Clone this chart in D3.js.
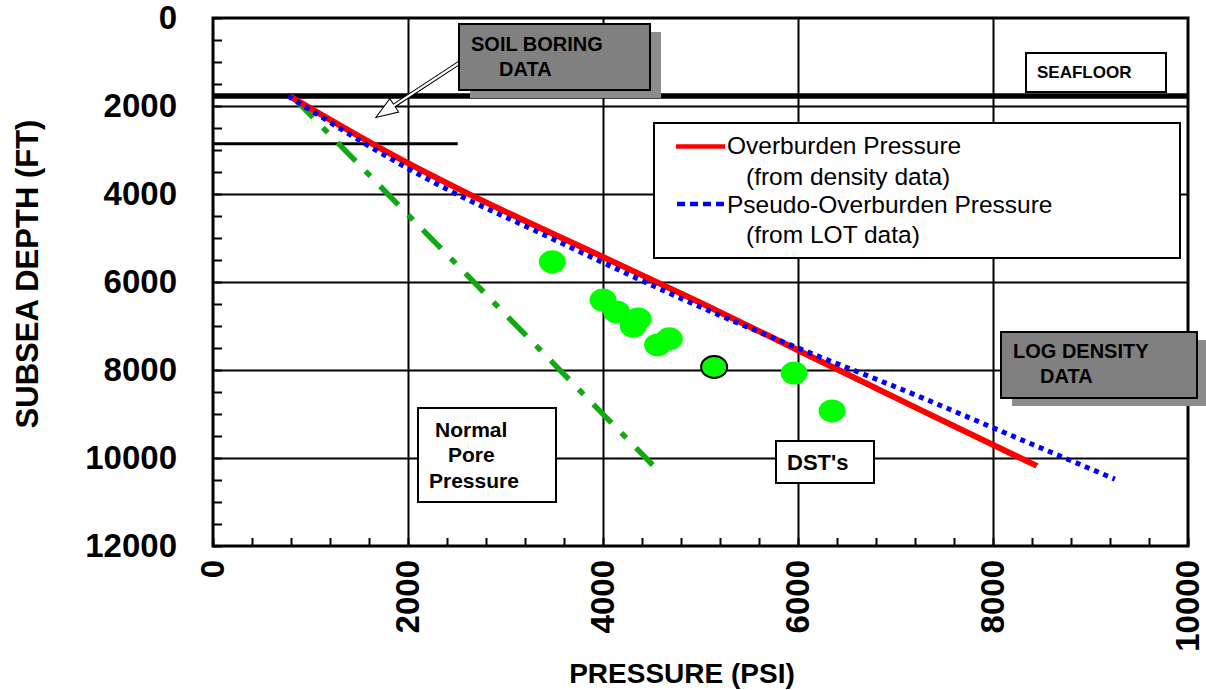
<!DOCTYPE html>
<html>
<head>
<meta charset="utf-8">
<script src="https://cdn.jsdelivr.net/npm/d3@7"></script>
<style>
  html, body { margin: 0; padding: 0; background: #fff; }
  svg { display: block; font-family: Arial, "Liberation Sans", Helvetica, sans-serif; }
</style>
</head>
<body>
<svg id="chart" width="1206" height="690"></svg>
<script>
// ---- data (pressure in psi, depth in ft) ----
const pressureTicks = [0, 2000, 4000, 6000, 8000, 10000];
const depthTicks = [0, 2000, 4000, 6000, 8000, 10000, 12000];

const overburden = [
  [790, 1780], [2000, 3300], [2600, 3975], [4000, 5430],
  [5000, 6470], [6000, 7550], [7250, 8900], [8450, 10180]
];
const pseudoOverburden = [
  [770, 1773], [2000, 3420], [2450, 3950], [3300, 4830],
  [4000, 5560], [5000, 6570], [6000, 7500], [7250, 8610], [8050, 9360], [9250, 10480]
];
const normalPore = [[840, 1840], [4510, 10160]];
const dstPoints = [
  [3480, 5540], [4000, 6410], [4140, 6680], [4360, 6840], [4310, 7000],
  [4560, 7430], [4680, 7290], [5960, 8070], [6350, 8930]
];
const dstHighlighted = [[5140, 7930]];
const seafloorDepth = 1773;
const soilBoringBase = { depth: 2860, pressure: 2510 };

// ---- layout ----
const svg = d3.select("#chart");
const pL = 213, pR = 1188, pT = 18, pB = 546;
const x = d3.scaleLinear().domain([0, 10000]).range([pL, pR]);
const y = d3.scaleLinear().domain([0, 12000]).range([pT, pB]);

svg.append("rect").attr("width", 1206).attr("height", 690).attr("fill", "#fff");

// grid lines at the major ticks
svg.append("g")
  .attr("transform", `translate(0,${pB})`)
  .call(d3.axisBottom(x).tickValues(pressureTicks.slice(1, -1)).tickSize(-(pB - pT)).tickFormat(""))
  .call(g => g.select(".domain").remove())
  .call(g => g.selectAll("line").attr("stroke", "#000").attr("stroke-width", 2));
svg.append("g")
  .attr("transform", `translate(${pL},0)`)
  .call(d3.axisLeft(y).tickValues(depthTicks.slice(1, -1)).tickSize(-(pR - pL)).tickFormat(""))
  .call(g => g.select(".domain").remove())
  .call(g => g.selectAll("line").attr("stroke", "#000").attr("stroke-width", 2));

// minor ticks pointing into the plot
svg.append("g")
  .attr("transform", `translate(${pL},0)`)
  .call(d3.axisRight(y).tickValues(d3.range(0, 12001, 500)).tickSize(9).tickFormat(""))
  .call(g => g.select(".domain").remove())
  .call(g => g.selectAll("line").attr("stroke", "#000").attr("stroke-width", 2));
svg.append("g")
  .attr("transform", `translate(0,${pB})`)
  .call(d3.axisTop(x).tickValues(d3.range(0, 10001, 400)).tickSize(8).tickFormat(""))
  .call(g => g.select(".domain").remove())
  .call(g => g.selectAll("line").attr("stroke", "#000").attr("stroke-width", 2));

// plot frame
svg.append("rect")
  .attr("x", pL).attr("y", pT).attr("width", pR - pL).attr("height", pB - pT)
  .attr("fill", "none").attr("stroke", "#000").attr("stroke-width", 3);

// seafloor and base of soil boring
svg.append("line")
  .attr("x1", pL).attr("x2", pR)
  .attr("y1", y(seafloorDepth)).attr("y2", y(seafloorDepth))
  .attr("stroke", "#000").attr("stroke-width", 5.5);
svg.append("line")
  .attr("x1", pL).attr("x2", x(soilBoringBase.pressure))
  .attr("y1", y(soilBoringBase.depth)).attr("y2", y(soilBoringBase.depth))
  .attr("stroke", "#000").attr("stroke-width", 3);

const line = d3.line().x(d => x(d[0])).y(d => y(d[1]));
const smooth = d3.line().x(d => x(d[0])).y(d => y(d[1])).curve(d3.curveMonotoneX);

// normal pore pressure trend (dash-dot)
svg.append("path").datum(normalPore)
  .attr("d", line).attr("fill", "none")
  .attr("stroke", "#12a812").attr("stroke-width", 5.5)
  .attr("stroke-dasharray", "26,14,7,14");

// DST measurements
svg.append("g").selectAll("ellipse").data(dstPoints).join("ellipse")
  .attr("cx", d => x(d[0])).attr("cy", d => y(d[1]))
  .attr("rx", 13.5).attr("ry", 11.5)
  .attr("fill", "#00ff00");
svg.append("g").selectAll("ellipse").data(dstHighlighted).join("ellipse")
  .attr("cx", d => x(d[0])).attr("cy", d => y(d[1]))
  .attr("rx", 13).attr("ry", 11)
  .attr("fill", "#00ff00").attr("stroke", "#000").attr("stroke-width", 2);

// overburden curves
svg.append("path").datum(overburden)
  .attr("d", smooth).attr("fill", "none")
  .attr("stroke", "#ff0000").attr("stroke-width", 6);
svg.append("path").datum(pseudoOverburden)
  .attr("d", smooth).attr("fill", "none")
  .attr("stroke", "#0000ff").attr("stroke-width", 5)
  .attr("stroke-dasharray", "5,5");

// ---- axis labels ----
svg.append("g")
  .attr("transform", `translate(${pL},0)`)
  .call(d3.axisLeft(y).tickValues(depthTicks).tickSize(0).tickPadding(36).tickFormat(d3.format("d")))
  .call(g => g.select(".domain").remove())
  .call(g => g.selectAll("text")
    .attr("font-family", "Arial, 'Liberation Sans', sans-serif")
    .attr("font-size", 33).attr("font-weight", "bold").attr("fill", "#000"));

svg.append("g").selectAll("text").data(pressureTicks).join("text")
  .attr("transform", d => `translate(${x(d) + 11},560) rotate(-90)`)
  .attr("text-anchor", "end")
  .attr("font-size", 33).attr("font-weight", "bold")
  .text(d => d3.format("d")(d));

svg.append("text")
  .attr("x", 682).attr("y", 683)
  .attr("text-anchor", "middle")
  .attr("font-size", 28).attr("font-weight", "bold")
  .text("PRESSURE (PSI)");

svg.append("text")
  .attr("transform", "translate(38,274) rotate(-90)")
  .attr("text-anchor", "middle")
  .attr("font-size", 31).attr("font-weight", "bold")
  .text("SUBSEA DEPTH (FT)");

// ---- annotations ----
function shadowBox(bx, by, bw, bh, lines) {
  svg.append("rect").attr("x", bx + 11).attr("y", by + 8).attr("width", bw).attr("height", bh)
    .attr("fill", "#8c8c8c");
  svg.append("rect").attr("x", bx).attr("y", by).attr("width", bw).attr("height", bh)
    .attr("fill", "#808080").attr("stroke", "#000").attr("stroke-width", 2);
  lines.forEach(l => svg.append("text").attr("x", l[0]).attr("y", l[1])
    .attr("font-size", 20).attr("font-weight", "bold").text(l[2]));
}
function plainBox(bx, by, bw, bh, size, lines) {
  svg.append("rect").attr("x", bx).attr("y", by).attr("width", bw).attr("height", bh)
    .attr("fill", "#fff").attr("stroke", "#000").attr("stroke-width", 2);
  lines.forEach(l => svg.append("text").attr("x", l[0]).attr("y", l[1])
    .attr("font-size", size).attr("font-weight", "bold").text(l[2]));
}

// hollow arrow from the soil boring label down to the soil boring interval
(function () {
  const sx = 459, sy = 63;
  const tx = x(1670), ty = y(2260);
  const L = Math.hypot(tx - sx, ty - sy);
  const ang = Math.atan2(ty - sy, tx - sx) * 180 / Math.PI;
  const hl = 22, hw = 8, sw = 1.6;
  const pts = [[0, -sw], [L - hl, -sw], [L - hl, -hw], [L, 0], [L - hl, hw], [L - hl, sw], [0, sw]];
  svg.append("path")
    .attr("transform", `translate(${sx},${sy}) rotate(${ang})`)
    .attr("d", "M" + pts.map(p => p.join(",")).join("L") + "Z")
    .attr("fill", "#fff").attr("stroke", "#000").attr("stroke-width", 1);
})();

shadowBox(459, 24, 191, 66, [[471, 51, "SOIL BORING"], [499, 76, "DATA"]]);
shadowBox(1001, 332, 196, 66, [[1013, 358, "LOG DENSITY"], [1040, 383, "DATA"]]);

plainBox(1026, 53, 140, 39, 17, [[1037, 78, "SEAFLOOR"]]);
plainBox(418, 408, 138, 94, 21, [[435, 437, "Normal"], [448, 462, "Pore"], [429, 488, "Pressure"]]);
plainBox(776, 441, 98, 42, 22, [[787, 470, "DST's"]]);

// legend
const lg = svg.append("g");
lg.append("rect").attr("x", 654).attr("y", 123).attr("width", 526).attr("height", 135)
  .attr("fill", "#fff").attr("stroke", "#000").attr("stroke-width", 2);
lg.append("line").attr("x1", 676).attr("x2", 725).attr("y1", 146.5).attr("y2", 146.5)
  .attr("stroke", "#ff0000").attr("stroke-width", 4.5);
lg.append("line").attr("x1", 677).attr("x2", 726).attr("y1", 204).attr("y2", 204)
  .attr("stroke", "#0000ff").attr("stroke-width", 4.5).attr("stroke-dasharray", "8,5");
[[727, 154, "Overburden Pressure"], [746, 185, "(from density data)"],
 [727, 213, "Pseudo-Overburden Pressure"], [746, 243, "(from LOT data)"]]
  .forEach(l => lg.append("text").attr("x", l[0]).attr("y", l[1]).attr("font-size", 24.5).text(l[2]));
</script>
</body>
</html>
